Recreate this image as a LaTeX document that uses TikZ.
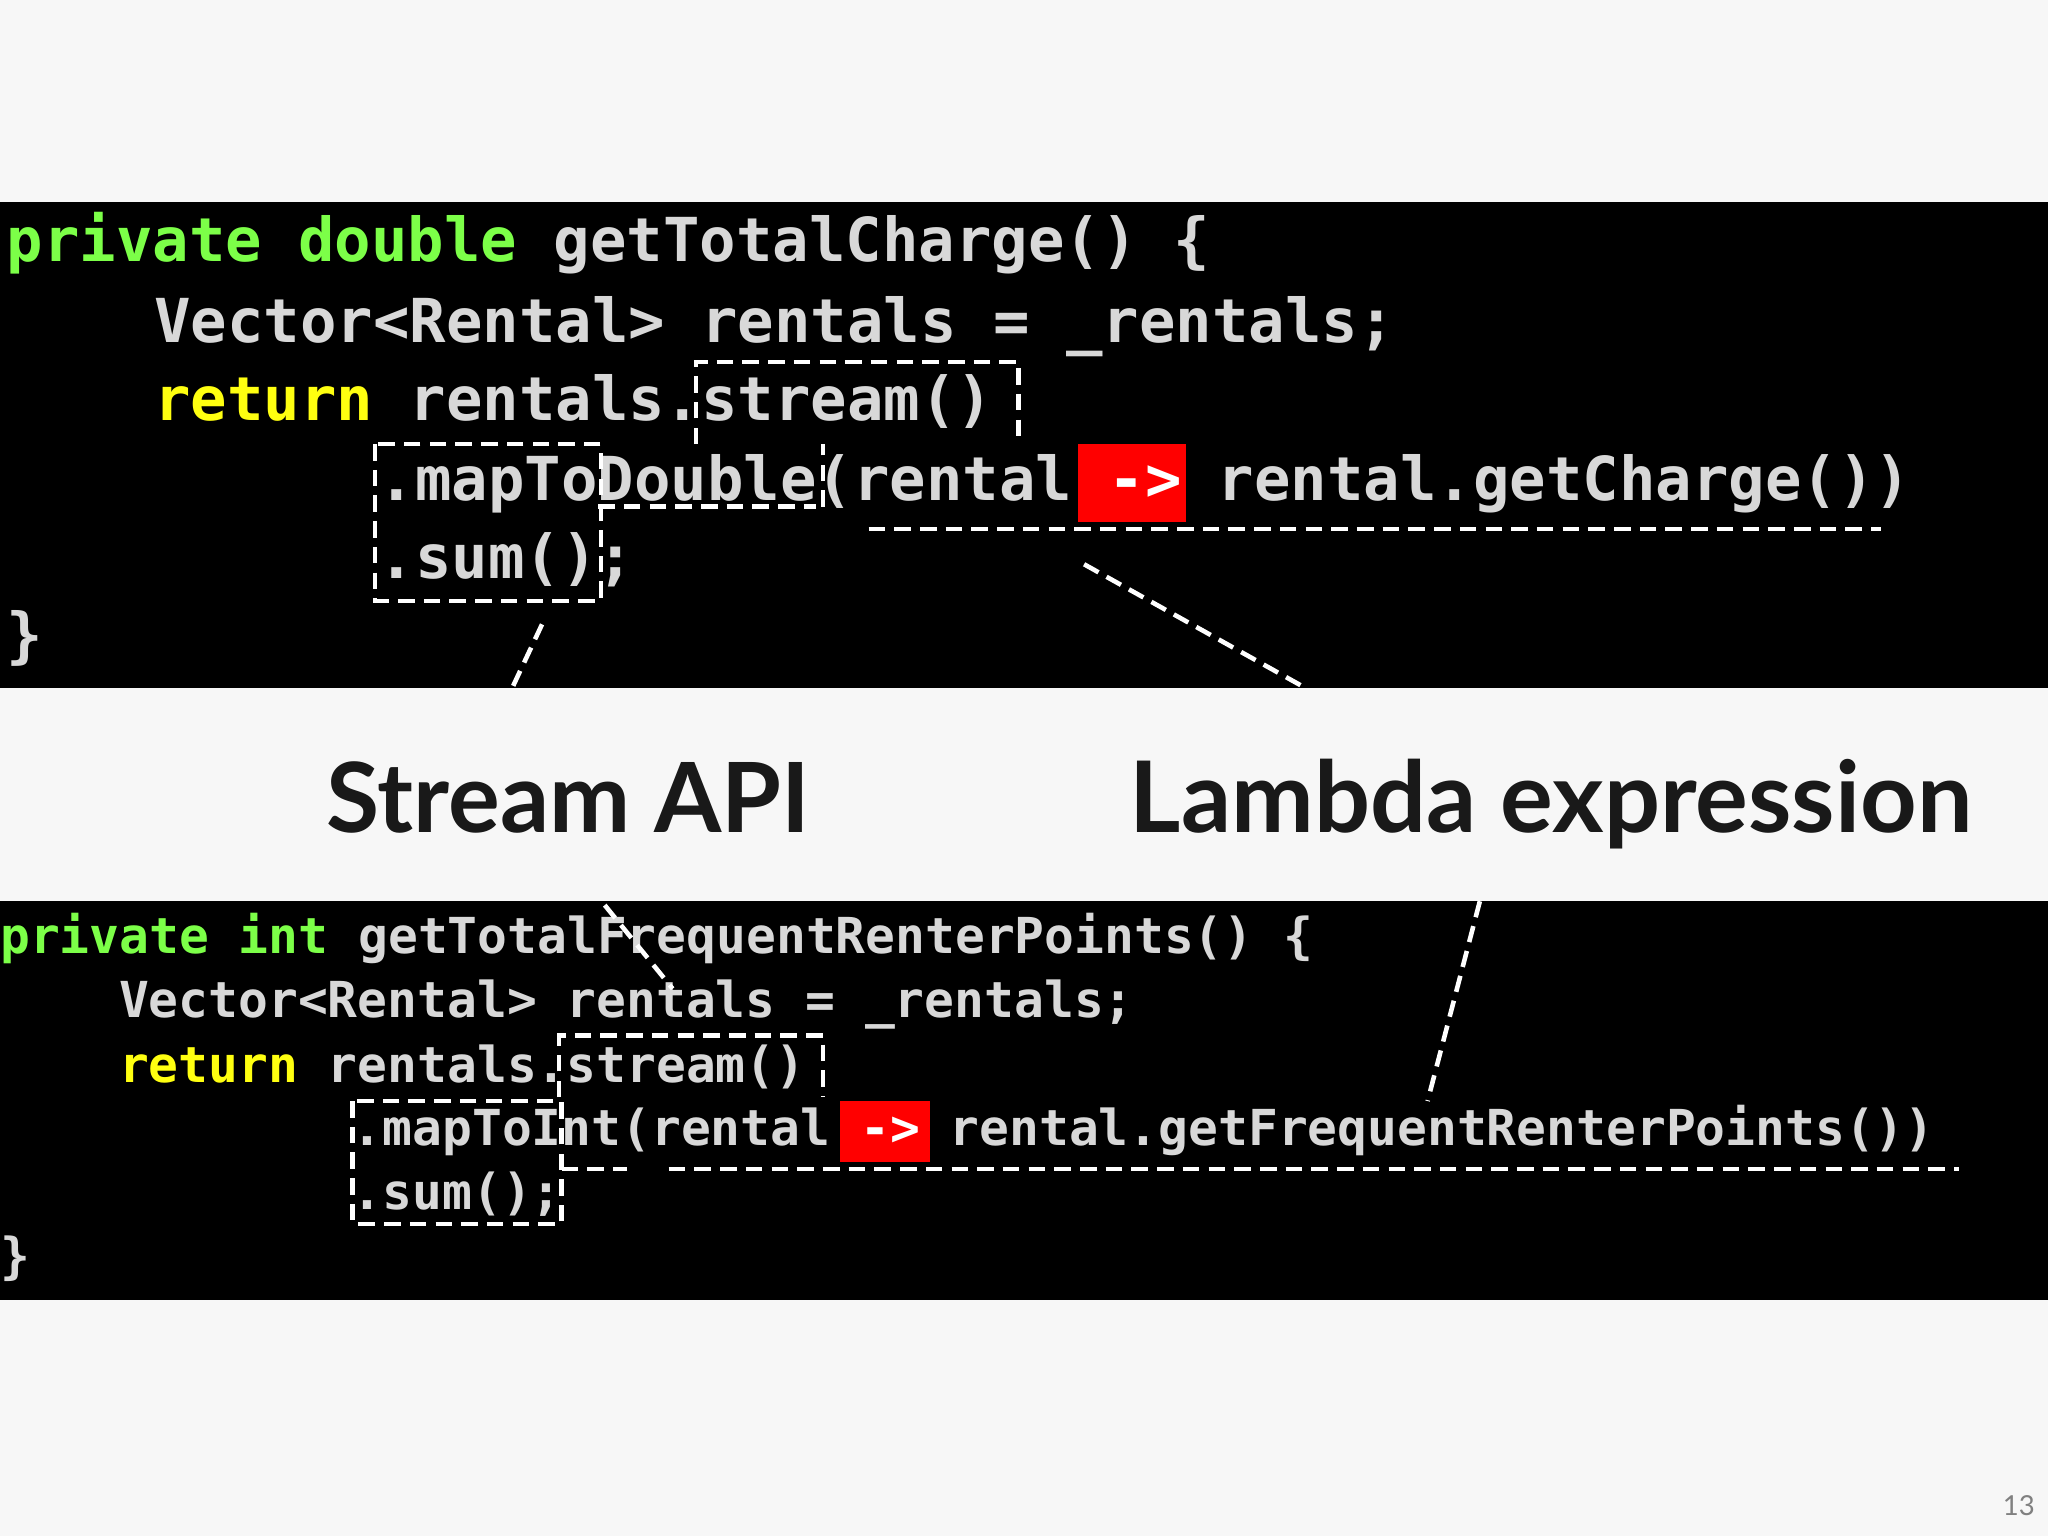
\documentclass[tikz,border=0pt]{standalone}
\usepackage{fontspec}
\setmainfont{Lato}
\newfontfamily\codefont{DejaVu Sans Mono}
\definecolor{kw}{HTML}{7CFF48}
\definecolor{rt}{HTML}{FFFF10}
\definecolor{tx}{HTML}{D8D8D8}
\begin{document}
\begin{tikzpicture}[x=0.05cm,y=-0.05cm,
  codeA/.style={anchor=base west,inner sep=0,font=\codefont\bfseries\fontsize{66}{66}\selectfont,text=tx},
  codeB/.style={anchor=base west,inner sep=0,font=\codefont\bfseries\fontsize{54}{54}\selectfont,text=tx},
  dsh/.style={white,line width=5pt,dash pattern=on 18pt off 10pt},
  lbl/.style={font=\bfseries\fontsize{112}{112}\selectfont,text=black!90,inner sep=0}]
\useasboundingbox (0,0) rectangle (1568,1176);
\fill[white!97!black] (0,0) rectangle (1568,1176);
\fill[black] (0,155) rectangle (1568,527);
\fill[black] (0,690) rectangle (1568,995);
% red boxes
\fill[red] (825,340) rectangle (908,400);
\fill[red] (643,843) rectangle (712,890);
% top code
\node[codeA] (a1) at (5,200) {\textcolor{kw}{private double} getTotalCharge() \{};
\node[codeA] (a2) at (118,262) {Vector<Rental> rentals = \_rentals;};
\node[codeA] (a3) at (118,322) {\textcolor{rt}{return} rentals.stream()};
\node[codeA] (a4) at (290,383) {.mapToDouble(rental \textcolor{white}{->} rental.getCharge())};
\node[codeA] (a5) at (290,443) {.sum();};
\node[codeA] (a6) at (5,503) {\}};
% bottom code
\node[codeB] (b1) at (0,730) {\textcolor{kw}{private int} getTotalFrequentRenterPoints() \{};
\node[codeB] (b2) at (91,779) {Vector<Rental> rentals = \_rentals;};
\node[codeB] (b3) at (91,829) {\textcolor{rt}{return} rentals.stream()};
\node[codeB] (b4) at (270,877) {.mapToInt(rental \textcolor{white}{->} rental.getFrequentRenterPoints())};
\node[codeB] (b5) at (270,926) {.sum();};
\node[codeB] (b6) at (0,975) {\}};
% labels
\node[lbl,anchor=base west] (s) at (250,637) {\resizebox{18.5cm}{!}{Stream API}};
\node[lbl,anchor=base west] (l) at (865,637) {\resizebox{32.25cm}{!}{Lambda expression}};
\node[anchor=base east,font=\fontsize{30}{30}\selectfont,text=gray,inner sep=0] (pg) at (1558,1160) {13};
% top dashed boxes
\draw[dsh] (533,340) -- (533,277) -- (780,277) -- (780,340);
\draw[dsh] (287,340) -- (287,460) -- (460,460) -- (460,340) -- cycle;
\draw[dsh] (458,388) -- (625,388);
\draw[dsh] (630,388) -- (630,340);
\draw[dsh] (665,405) -- (1440,405);
\coordinate (t1) at (415,478); \coordinate (t2) at (392,527);
\draw[dsh] (t1) -- (t2);
\coordinate (t3) at (830,432); \coordinate (t4) at (1000,527);
\draw[dsh] (t3) -- (t4);
% bottom dashed boxes
\draw[dsh] (428,840) -- (428,793) -- (630,793) -- (630,840);
\draw[dsh] (270,843) -- (270,937) -- (430,937) -- (430,843) -- cycle;
\draw[dsh] (430,895) -- (480,895);
\draw[dsh] (512,895) -- (1500,895);
\coordinate (u1) at (1133,690); \coordinate (u2) at (1093,843);
\draw[dsh] (u1) -- (u2);
\coordinate (u3) at (463,693); \coordinate (u4) at (515,757);
\draw[dsh] (u3) -- (u4);
\end{tikzpicture}
\end{document}
